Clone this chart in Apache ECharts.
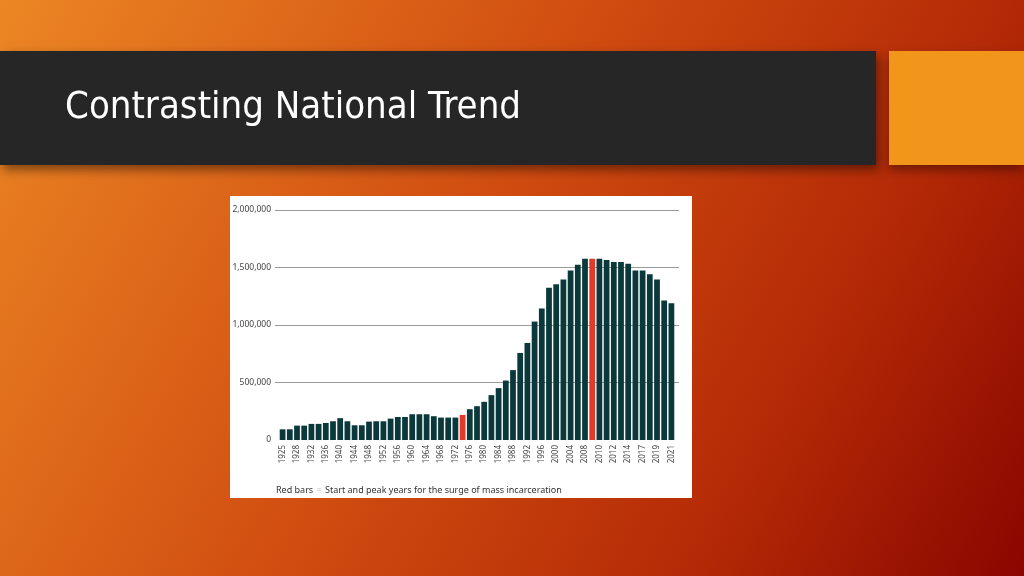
<!DOCTYPE html>
<html>
<head>
<meta charset="utf-8">
<title>Contrasting National Trend</title>
<script src="https://cdn.jsdelivr.net/npm/echarts@6/dist/echarts.min.js"></script>
<style>
  html, body { margin: 0; padding: 0; }
  #chart { width: 1024px; height: 576px; }
</style>
</head>
<body>
<div id="chart"></div>
<script>
// years shown as bars (every 2nd year early on, yearly from 2008)
const years = [
  "1925", "1926", "1928", "1930", "1932", "1934", "1936", "1938", "1940", "1942",
  "1944", "1946", "1948", "1950", "1952", "1954", "1956", "1958", "1960", "1962",
  "1964", "1966", "1968", "1970", "1972", "1974", "1976", "1978", "1980", "1982",
  "1984", "1986", "1988", "1990", "1992", "1994", "1996", "1998", "2000", "2002",
  "2004", "2006", "2008", "2009", "2010", "2011", "2012", "2013", "2014", "2016",
  "2017", "2018", "2019", "2020", "2021"
];
// prison population
const population = [
  93000, 93000, 125000, 125000, 140000, 140000, 148000, 163000, 190000, 163000,
  128000, 128000, 160000, 163000, 163000, 186000, 200000, 200000, 224000, 224000,
  224000, 207000, 195000, 195000, 195000, 218000, 268000, 294000, 332000, 390000,
  451000, 517000, 608000, 757000, 844000, 1030000, 1143000, 1324000, 1355000, 1396000,
  1475000, 1524000, 1577000, 1577000, 1577000, 1565000, 1547000, 1547000, 1533000, 1475000,
  1475000, 1442000, 1396000, 1213000, 1189000
];
// start and peak of the surge
const redYears = ["1974", "2009"];
const yTicks = [0, 500000, 1000000, 1500000, 2000000];

const myChart = echarts.init(document.getElementById("chart"));

const barColor = "#0b393b";
const redColor = "#e2392a";
const fmt = (v) => v.toLocaleString("en-US");

const option = {
  animation: false,
  graphic: [
    // slide background
    {
      type: "rect",
      shape: { x: 0, y: 0, width: 1024, height: 576 },
      z: -10,
      style: {
        fill: new echarts.graphic.LinearGradient(0, 0, 1, 1, [
          { offset: 0, color: "#ec8624" },
          { offset: 0.45, color: "#d04c10" },
          { offset: 0.75, color: "#b42a06" },
          { offset: 1, color: "#8a0600" },
        ]),
      },
    },
    // dark title band
    {
      type: "rect",
      shape: { x: 0, y: 51, width: 876, height: 114 },
      z: -5,
      style: {
        fill: "#262626",
        shadowBlur: 10,
        shadowOffsetX: 3,
        shadowOffsetY: 5,
        shadowColor: "rgba(0,0,0,0.45)",
      },
    },
    // orange block on the right
    {
      type: "rect",
      shape: { x: 889, y: 51, width: 135, height: 114 },
      z: -5,
      style: {
        fill: "#f2961b",
        shadowBlur: 10,
        shadowOffsetY: 5,
        shadowColor: "rgba(0,0,0,0.4)",
      },
    },
    {
      type: "text",
      left: 65,
      top: 89,
      style: {
        text: "Contrasting National Trend",
        fill: "#ffffff",
        font: '38px "Liberation Sans Narrow", "DejaVu Sans Condensed", sans-serif',
      },
    },
    // white chart panel
    {
      type: "rect",
      shape: { x: 230, y: 196, width: 462, height: 302 },
      z: -4,
      style: { fill: "#ffffff" },
    },
    {
      type: "text",
      left: 276,
      top: 484,
      style: {
        text: "{a|Red bars} {b|=} {a|Start and peak years for the surge of mass incarceration}",
        rich: {
          a: { fill: "#333333", fontSize: 9, fontFamily: "Noto Sans" },
          b: { fill: "#c0c0c0", fontSize: 9, fontFamily: "Noto Sans" },
        },
      },
    },
  ],
  grid: [
    // gridlines + value labels
    { left: 275, top: 210, width: 404, height: 230 },
    // bars
    { left: 279, top: 210, width: 396, height: 230 },
  ],
  xAxis: [
    {
      gridIndex: 0,
      type: "value",
      min: 0,
      max: 1,
      show: false,
    },
    {
      gridIndex: 1,
      type: "category",
      data: years,
      axisLine: { show: false },
      axisTick: { show: false },
      axisLabel: {
        interval: 1,
        rotate: 90,
        margin: 5,
        fontSize: 8,
        fontFamily: "Noto Sans",
        color: "#444",
      },
    },
  ],
  yAxis: [
    {
      gridIndex: 0,
      type: "value",
      min: yTicks[0],
      max: yTicks[yTicks.length - 1],
      interval: 500000,
      axisLine: { show: false },
      axisTick: { show: false },
      axisLabel: {
        margin: 4,
        fontSize: 8.5,
        fontFamily: "Noto Sans",
        color: "#444",
        formatter: (v) => fmt(v),
      },
      splitLine: {
        show: true,
        lineStyle: {
          // no line at zero
          color: ["rgba(0,0,0,0)", "#9a9a9a", "#9a9a9a", "#9a9a9a", "#9a9a9a"],
          width: 1,
        },
      },
    },
    {
      gridIndex: 1,
      type: "value",
      min: yTicks[0],
      max: yTicks[yTicks.length - 1],
      show: false,
      splitLine: { show: false },
    },
  ],
  series: [
    {
      type: "bar",
      xAxisIndex: 1,
      yAxisIndex: 1,
      barCategoryGap: "20%",
      data: years.map((y, i) => ({
        value: population[i],
        itemStyle: { color: redYears.includes(y) ? redColor : barColor },
      })),
    },
  ],
};
myChart.setOption(option);
</script>
</body>
</html>
